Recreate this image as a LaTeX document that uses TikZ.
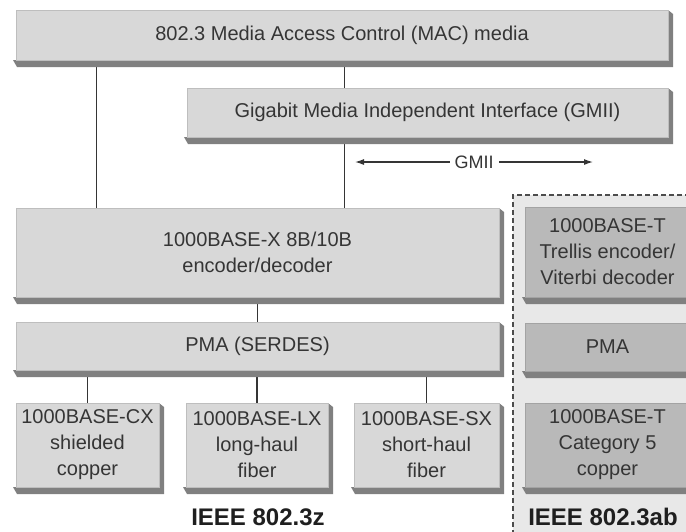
\documentclass[tikz,border=0pt]{standalone}
\usepackage{fontspec}
\setmainfont{Liberation Sans}
\usetikzlibrary{arrows.meta,backgrounds}

\definecolor{facelight}{HTML}{D8D8D8}
\definecolor{facedark}{HTML}{B9B9B9}
\definecolor{edgegray}{HTML}{808080}
\definecolor{zonegray}{HTML}{E8E8E8}
\definecolor{inkgray}{HTML}{353535}

\begin{document}
\begin{tikzpicture}[x=1pt,y=-1pt,
  slab/.style={fill=facelight, draw=facelight!88!black, line width=0.4pt, inner sep=0pt, align=center, text=inkgray, font=\fontsize{20}{26}\selectfont},
  tslab/.style={slab, fill=facedark, draw=facedark!88!black},
  link/.style={line width=1.2pt, color=inkgray},
  stdlabel/.style={font=\bfseries\fontsize{24}{28}\selectfont, text=black!88}]
\useasboundingbox (0,0) rectangle (686,531);

\fill[zonegray] (513,195) rectangle (690,535);
\draw[line width=1.5pt, color=black!70, dash pattern=on 5pt off 3pt] (513,535) -- (513,195) -- (690,195);

\foreach \xa/\ya/\xb/\yb in {16/10/668/60, 187/88/668/137, 16/208/499/297, 16/322/499/370, 16/403/159/487, 186/403/328/487, 354/403/499/487, 525/207/690/297, 525/323/690/371, 525/403/690/487}
  \fill[edgegray] (\xa-3,\yb) -- (\xb,\yb) -- (\xb,\ya) -- (\xb+5,\ya+4) -- (\xb+5,\yb+7) -- (\xa+1,\yb+7) -- cycle;

\node[slab, minimum width=652pt, minimum height=50pt] (mac) at (342,35) {802.3 Media Access Control (MAC) media};
\node[slab, minimum width=481pt, minimum height=49pt] (gmii) at (427.5,112.5) {Gigabit Media Independent Interface (GMII)};
\node[slab, minimum width=483pt, minimum height=89pt] (enc) at (257.5,252.5) {1000BASE-X 8B/10B\\encoder/decoder};
\node[slab, minimum width=483pt, minimum height=48pt] (pmaL) at (257.5,346) {PMA (SERDES)};
\node[slab, minimum width=143pt, minimum height=84pt] (cx) at (87.5,445) {1000BASE-CX\\shielded\\copper};
\node[slab, minimum width=142pt, minimum height=84pt] (lx) at (257,445) {1000BASE-LX\\long-haul\\fiber};
\node[slab, minimum width=145pt, minimum height=84pt] (sx) at (426.5,445) {1000BASE-SX\\short-haul\\fiber};

\node[tslab, minimum width=165pt, minimum height=90pt] (trellis) at (607.5,252) {1000BASE-T\\Trellis encoder/\\Viterbi decoder};
\node[tslab, minimum width=165pt, minimum height=48pt] (pmaR) at (607.5,347) {PMA};
\node[tslab, minimum width=165pt, minimum height=84pt] (cat) at (607.5,445) {1000BASE-T\\Category 5\\copper};

\node[stdlabel] (std3z) at (258,517) {IEEE 802.3z};
\node[stdlabel] (std3ab) at (603,517) {IEEE 802.3ab};

\coordinate (gmL) at (355,162);
\coordinate (gmR) at (593,162);
\draw[link, {Latex[length=9pt,width=6pt]}-{Latex[length=9pt,width=6pt]}] (gmL) -- node[fill=white, inner sep=5pt, text=inkgray, font=\fontsize{18}{20}\selectfont] (gmlabel) {GMII} (gmR);

\begin{scope}[on background layer]
\draw[link]([xshift=81pt]enc.north west) -- ([xshift=81pt]enc.north west |- mac.south);
\draw[link]([xshift=158pt]gmii.north west) -- ([xshift=158pt]gmii.north west |- mac.south);
\draw[link]([xshift=158pt]gmii.south west) -- ([xshift=158pt]gmii.south west |- enc.north);
\draw[link](trellis.north -| 609,0) -- (trellis.north -| 609,0 |- gmii.south);
\draw[link](enc.south) -- (pmaL.north);
\draw[link](cx.north) -- (cx.north |- pmaL.south);
\draw[link](lx.north) -- (lx.north |- pmaL.south);
\draw[link](sx.north) -- (sx.north |- pmaL.south);
\end{scope}
\end{tikzpicture}
\end{document}
